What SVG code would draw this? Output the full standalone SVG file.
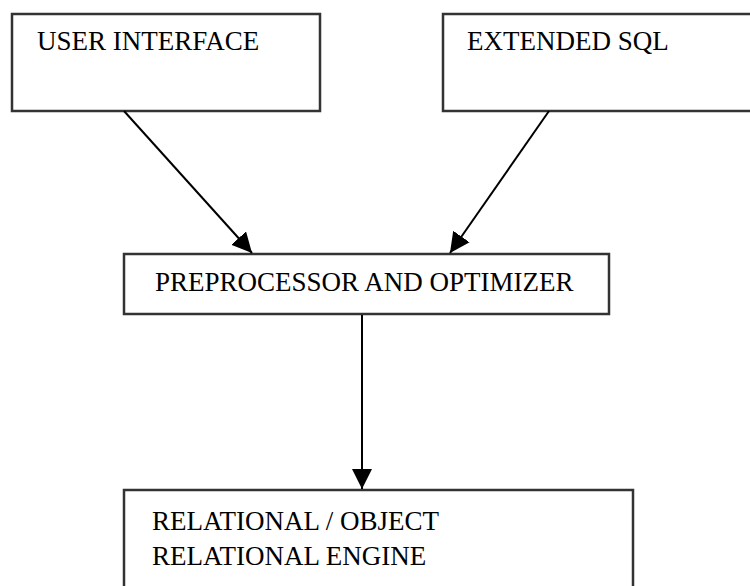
<svg xmlns="http://www.w3.org/2000/svg" width="750" height="586" viewBox="0 0 750 586">
<style>
.box{fill:#fff;stroke:#333;stroke-width:2.5}
.lbl{font-family:'Liberation Serif','Times New Roman','DejaVu Serif',serif;font-size:27px;fill:#000}
.conn{stroke:#000;stroke-width:2;fill:none}
</style>
<defs>
<marker id="ah" markerUnits="userSpaceOnUse" markerWidth="22" markerHeight="22" refX="20" refY="10" orient="auto">
<path d="M0,0 L20,10 L0,20 Z" fill="#000"/>
</marker>
</defs>
<rect width="750" height="586" fill="#fff"/>
<g id="user-interface">
<rect class="box" x="12" y="14" width="308" height="97"/>
<text class="lbl" font-family="Liberation Serif, serif" x="37" y="50">USER INTERFACE</text>
</g>
<g id="extended-sql">
<rect class="box" x="443" y="14" width="330" height="97"/>
<text class="lbl" font-family="Liberation Serif, serif" x="467" y="50">EXTENDED SQL</text>
</g>
<g id="preprocessor">
<rect class="box" x="124" y="254" width="485" height="60"/>
<text class="lbl" font-family="Liberation Serif, serif" x="155" y="291">PREPROCESSOR AND OPTIMIZER</text>
</g>
<g id="engine">
<rect class="box" x="124" y="490" width="509" height="120"/>
<text class="lbl" font-family="Liberation Serif, serif" x="152" y="530">RELATIONAL / OBJECT</text>
<text class="lbl" font-family="Liberation Serif, serif" x="152" y="565">RELATIONAL ENGINE</text>
</g>
<g id="connectors">
<path class="conn" d="M124,111 L252,253" marker-end="url(#ah)"/>
<path class="conn" d="M549,111 L450,253" marker-end="url(#ah)"/>
<path class="conn" d="M362,315 L362,489" marker-end="url(#ah)"/>
</g>
</svg>
